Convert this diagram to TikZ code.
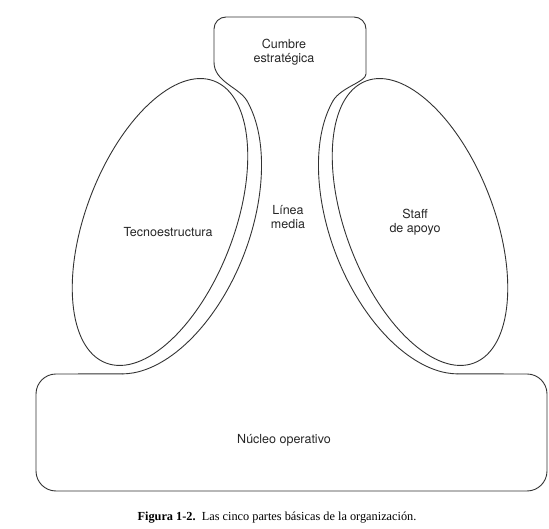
\documentclass[tikz,border=0pt]{standalone}
\usepackage{fontspec}
\setmainfont{Liberation Serif}
\setsansfont{TeX Gyre Heros}
\usetikzlibrary{calc}

\begin{document}
\begin{tikzpicture}[x=1pt,y=-1pt]
  \tikzstyle{contorno}=[draw=black!80,line width=0.9pt,line cap=round,line join=round]
  \tikzstyle{rotulo}=[align=center,font=\sffamily\fontsize{12.5}{14.5}\selectfont,text=black!85]
  \useasboundingbox (0,0) rectangle (549,529);
  \pgfmathsetmacro\tbajo{-atan(159*cos(21)/(90*sin(21)))}
  \pgfmathsetmacro\tbajoS{180-\tbajo}
  % tecnoestructura
  \begin{scope}[shift={(160,222)},rotate=-21]
    \draw[contorno] (0,0) ellipse[x radius=74pt,y radius=151pt];
    \coordinate (tsup) at (65:90pt and 159pt);
    \coordinate (tinf) at (\tbajo:90pt and 159pt);
    \draw[contorno] (tsup) arc[start angle=65,end angle=\tbajo,x radius=90pt,y radius=159pt];
  \end{scope}
  % staff de apoyo
  \begin{scope}[shift={(420,222)},rotate=21]
    \draw[contorno] (0,0) ellipse[x radius=74pt,y radius=151pt];
    \coordinate (ssup) at (115:90pt and 159pt);
    \coordinate (sinf) at (\tbajoS:90pt and 159pt);
    \draw[contorno] (ssup) arc[start angle=115,end angle=\tbajoS,x radius=90pt,y radius=159pt];
  \end{scope}
  % cumbre estrategica
  \draw[contorno] (tsup) .. controls +(-8,-14) and (214,82) .. (214,62)
    [rounded corners=12pt] -- (214,17) -- (366,17) -- (366,62)
    [sharp corners] .. controls (366,82) and ($(ssup)+(8,-14)$) .. (ssup);
  % nucleo operativo
  \draw[contorno,rounded corners=20pt] (tinf) -- (36,374) -- (36,491) -- (547,491) -- (547,374) -- (sinf);

  \node[rotulo] (cumbre) at (284,52) {Cumbre\\estratégica};
  \node[rotulo] (tecno) at (168,232) {Tecnoestructura};
  \node[rotulo] (linea) at (288,217) {Línea\\media};
  \node[rotulo] (staff) at (415,222) {Staff\\de apoyo};
  \node[rotulo] (nucleo) at (284,440) {Núcleo operativo};
  \node[font=\fontsize{12.3}{14}\selectfont] (pie) at (277,518) {\textbf{Figura 1-2.}\ \ Las cinco partes básicas de la organización.};
\end{tikzpicture}
\end{document}
